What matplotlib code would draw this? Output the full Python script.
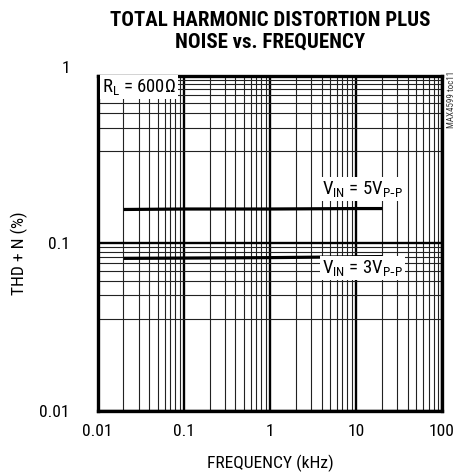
import numpy as np
import matplotlib
matplotlib.use('Agg')
import matplotlib.pyplot as plt
from matplotlib import font_manager
from matplotlib.ticker import FixedLocator, FixedFormatter, NullFormatter

# values
freq_khz = [0.021, 0.1, 1, 10, 19.5]
thd_5vpp = [0.159, 0.160, 0.160, 0.161, 0.161]
thd_3vpp = [0.0812, 0.0815, 0.082, 0.083, 0.0832]

x_ticks = [0.01, 0.1, 1, 10, 100]
x_tick_labels = ['0.01', '0.1', '1', '10', '100']
y_ticks = [0.01, 0.1, 1]
y_tick_labels = ['0.01', '0.1', '1']

# look for a narrow face, else squeeze a normal one by size
fonts = font_manager.fontManager.ttflist
names = {f.name for f in fonts}
family, stretch, scale = 'Liberation Sans', 'normal', 0.86
for cand in ['Liberation Sans Narrow', 'Roboto Condensed', 'Open Sans Condensed', 'DejaVu Sans Condensed']:
    if cand in names:
        family, scale = cand, 1.0
        break
else:
    cond = [f for f in fonts if f.name == 'DejaVu Sans' and str(f.stretch) in ('condensed', '500')]
    if cond:
        family, stretch, scale = 'DejaVu Sans', 'condensed', 0.92

plt.rcParams['font.family'] = [family, 'DejaVu Sans']
plt.rcParams['font.stretch'] = stretch
plt.rcParams['mathtext.default'] = 'regular'
fs = 12.6 * scale
fs_note = 13.5 * scale

fig = plt.figure(figsize=(4.56, 4.75), dpi=100)
ax = fig.add_axes([0.214, 0.1354, 0.755, 0.7052])
ax.set_xscale('log')
ax.set_yscale('log')
ax.set_xlim(0.01, 100)
ax.set_ylim(0.01, 1)

# grid: x minor is plain log, the y minor lines in the original sit oddly high
x_minor = [m * 10.0 ** d for d in range(-2, 2) for m in range(2, 10)]
y_minor = [10.0 ** (d + np.sqrt(np.log10(m))) for d in (-2, -1) for m in range(2, 10)]
ax.xaxis.set_major_locator(FixedLocator(x_ticks))
ax.xaxis.set_major_formatter(FixedFormatter(x_tick_labels))
ax.yaxis.set_major_locator(FixedLocator(y_ticks))
ax.yaxis.set_major_formatter(FixedFormatter(y_tick_labels))
ax.xaxis.set_minor_locator(FixedLocator(x_minor))
ax.yaxis.set_minor_locator(FixedLocator(y_minor))
ax.xaxis.set_minor_formatter(NullFormatter())
ax.yaxis.set_minor_formatter(NullFormatter())
ax.grid(which='minor', color='#222222', lw=0.8)
ax.grid(which='major', color='black', lw=1.7)
ax.set_axisbelow(True)

ax.tick_params(which='both', length=0)
ax.tick_params(axis='x', pad=9.5, labelsize=fs)
ax.tick_params(axis='y', pad=20, labelsize=fs)
for lab in ax.get_yticklabels():
    if lab.get_text() == '1':
        lab.set_va('bottom')
for sp in ax.spines.values():
    sp.set_linewidth(2.4)
    sp.set_zorder(5)

ax.plot(freq_khz, thd_5vpp, color='black', lw=2.3, zorder=4)
ax.plot(freq_khz, thd_3vpp, color='black', lw=2.3, zorder=4)

box = dict(facecolor='white', edgecolor='none', pad=1.5)
ax.text(0.012, 0.967, r'$R_L$ = 600Ω', transform=ax.transAxes, fontsize=fs_note,
        va='center', ha='left', bbox=box, zorder=6)
ax.text(0.652, 0.662, r'$V_{IN}$ = 5$V_{P\text{-}P}$', transform=ax.transAxes,
        fontsize=fs_note, va='center', ha='left', bbox=box, zorder=6)
ax.text(0.652, 0.426, r'$V_{IN}$ = 3$V_{P\text{-}P}$', transform=ax.transAxes,
        fontsize=fs_note, va='center', ha='left', bbox=box, zorder=6)

fig.text(0.592, 0.934, 'TOTAL HARMONIC DISTORTION PLUS\nNOISE vs. FREQUENCY',
         ha='center', va='center', fontsize=15 * scale, fontweight='bold',
         linespacing=1.2)
fig.text(0.042, 0.466, 'THD + N (%)', rotation=90, ha='center', va='center', fontsize=fs)
fig.text(0.592, 0.025, 'FREQUENCY (kHz)', ha='center', va='center', fontsize=fs)
fig.text(0.99, 0.79, 'MAX4599 toc11', rotation=90, ha='center', va='center',
         fontsize=6.5 * scale, color='#333333')

fig.savefig('out.png', dpi=100)
